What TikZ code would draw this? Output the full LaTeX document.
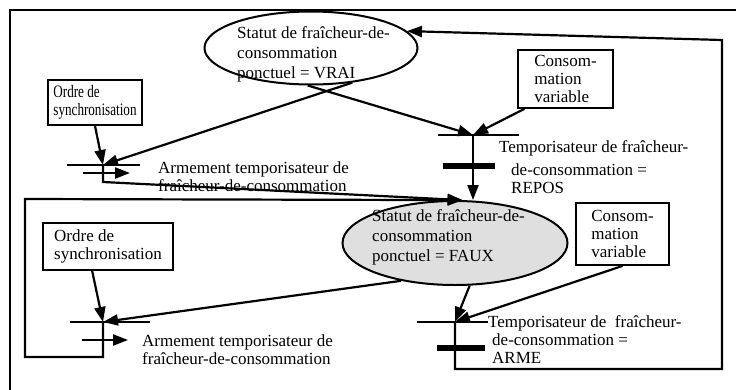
\documentclass[tikz,border=0pt]{standalone}
\usepackage{fontspec}
\setmainfont{Liberation Serif}
\newfontfamily\etroit[FakeStretch=0.75]{Liberation Serif}
\usetikzlibrary{arrows.meta,shapes.geometric}

\begin{document}
\begin{tikzpicture}[
  x=1pt, y=-1pt,
  every node/.style={font=\fontsize{17}{18}\selectfont, inner sep=0pt},
  etat/.style={draw, ellipse, line width=2pt, inner sep=0pt},
  etattxt/.style={anchor=west, align=left, font=\fontsize{17}{20}\selectfont},
  box/.style={draw, line width=1.8pt, align=left},
  arrow/.style={-{Triangle[length=15pt,width=11pt]}, line width=2.2pt},
  cadre/.style={line width=1.6pt},
  tbar/.style={line width=2.2pt},
  abar/.style={line width=6.5pt},
  lbl/.style={anchor=west, align=left}
]
\useasboundingbox (0,0) rectangle (736,389);
\draw[cadre] (10,10) rectangle (760,400);

% etats
\node[etat, minimum width=213pt, minimum height=73pt] (vrai) at (311,48) {};
\node[etattxt] (vraitxt) at (237,54) {Statut de fraîcheur-de-\\consommation\\ponctuel = VRAI};
\node[etat, fill=gray!25, minimum width=225pt, minimum height=84pt] (faux) at (455,243) {};
\node[etattxt] (fauxtxt) at (372,237) {Statut de fraîcheur-de-\\consommation\\ponctuel = FAUX};

% conditions
\node[box, minimum width=94pt, minimum height=45pt, font=\etroit\fontsize{17.5}{18}\selectfont] (ordreA) at (95,102.5) {Ordre de\\synchronisation};
\node[box, minimum width=95pt, minimum height=58pt] (consA) at (565.5,79) {Consom-\\mation\\variable};
\node[box, minimum width=130pt, minimum height=47pt] (ordreB) at (108,246.5) {Ordre de\\synchronisation};
\node[box, minimum width=93pt, minimum height=62pt] (consB) at (622.5,234) {Consom-\\mation\\variable};

% transitions
\coordinate (tA) at (103,165);
\coordinate (tB) at (473,135);
\coordinate (tC) at (103,322);
\coordinate (tD) at (455,322);
\draw[tbar] (tA) +(-36,0) -- +(37,0);
\draw[tbar] (tB) +(-35,0) -- +(46,0);
\draw[tbar] (tC) +(-33,0) -- +(47,0);
\draw[tbar] (tD) +(-38,0) -- +(33,0);
\draw[abar] (473,166) +(-30,0) -- +(22,0);
\draw[abar] (455,348) +(-18,0) -- +(30,0);

% actions
\coordinate (actA1) at (83,173);
\coordinate (actA2) at (130,173);
\coordinate (actC1) at (82,340);
\coordinate (actC2) at (128,340);
\draw[arrow] (actA1) -- (actA2);
\draw[arrow] (actC1) -- (actC2);
\node[lbl] (labA) at (158,176.5) {Armement temporisateur de\\fraîcheur-de-consommation};
\node[lbl] (labB) at (499,167) {Temporisateur de fraîcheur-\\[5pt]\hspace*{12pt}de-consommation =\\\hspace*{12pt}REPOS};
\node[lbl] (labC) at (142,350) {Armement temporisateur de\\fraîcheur-de-consommation};
\node[lbl] (labD) at (488,340) {Temporisateur de\ \ fraîcheur-\\\hspace*{4pt}de-consommation =\\\hspace*{4pt}ARME};

% arcs
\draw[arrow] (ordreA.south) -- (tA);
\draw[arrow] (vrai.-40) -- (tA);
\draw[arrow] (vrai.-95) -- (tB);
\draw[arrow] (consA.216) -- (tB);
\draw[arrow] (tB) -- (tB |- faux.north);
\draw[arrow] (tA) -- ++(0,17) -- (faux.80);
\draw[arrow] (tC) -- ++(0,35) -| (25,199) -- (faux.80);
\draw[arrow] (ordreB.237) -- (tC);
\draw[arrow] (faux.215) -- (tC);
\draw[arrow] (faux.-71) -- (tD);
\draw[arrow] (consB.south) -- (tD);
\draw[arrow] (tD) -- ++(0,47) -| (722,40) -- (vrai.10);
\end{tikzpicture}
\end{document}
